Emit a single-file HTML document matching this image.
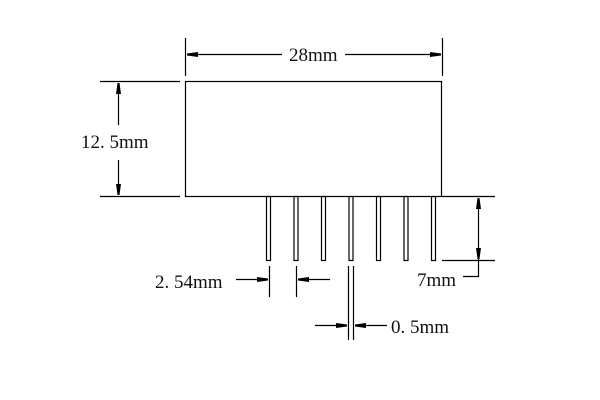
<!DOCTYPE html>
<html><head><style>body{margin:0;background:#fff}svg{display:block}text{font-family:"Liberation Serif",serif;font-size:19px;fill:#111}</style></head><body>
<svg width="600" height="400" viewBox="0 0 600 400" stroke="#000" stroke-width="1.2" fill="none">
<defs>
<marker id="a" markerWidth="12" markerHeight="8" refX="11" refY="4" orient="auto" markerUnits="userSpaceOnUse"><path d="M0,1.5 L11,3 L11,5 L0,6.5Z" fill="#000" stroke="none"/></marker>
</defs>
<rect x="185.5" y="81.5" width="256" height="115"/>
<line x1="185.5" y1="38" x2="185.5" y2="76"/>
<line x1="442.5" y1="38" x2="442.5" y2="76"/>
<line x1="282" y1="54.5" x2="187" y2="54.5" marker-end="url(#a)"/>
<line x1="345" y1="54.5" x2="441" y2="54.5" marker-end="url(#a)"/>
<text x="289" y="61" stroke="none">28mm</text>
<line x1="100" y1="81.5" x2="180" y2="81.5"/>
<line x1="100" y1="196.5" x2="180" y2="196.5"/>
<line x1="118.5" y1="125" x2="118.5" y2="83" marker-end="url(#a)"/>
<line x1="118.5" y1="160" x2="118.5" y2="195" marker-end="url(#a)"/>
<text x="81" y="148" stroke="none">12. 5mm</text>
<g>
<rect x="266.5" y="196.5" width="4" height="64"/>
<rect x="294" y="196.5" width="4" height="64"/>
<rect x="321.5" y="196.5" width="4" height="64"/>
<rect x="349" y="196.5" width="4" height="64"/>
<rect x="376.5" y="196.5" width="4" height="64"/>
<rect x="404" y="196.5" width="4" height="64"/>
<rect x="431.5" y="196.5" width="4" height="64"/>
</g>
<line x1="442" y1="196.5" x2="495" y2="196.5"/>
<line x1="442" y1="260.5" x2="495" y2="260.5"/>
<line x1="478.5" y1="230" x2="478.5" y2="198" marker-end="url(#a)"/>
<line x1="478.5" y1="230" x2="478.5" y2="259" marker-end="url(#a)"/>
<polyline points="478.5,259 478.5,276.5 463,276.5"/>
<text x="417" y="286" stroke="none">7mm</text>
<line x1="269.5" y1="266" x2="269.5" y2="297"/>
<line x1="296.5" y1="266" x2="296.5" y2="297"/>
<line x1="236" y1="279.5" x2="268" y2="279.5" marker-end="url(#a)"/>
<line x1="330" y1="279.5" x2="298" y2="279.5" marker-end="url(#a)"/>
<text x="155" y="288" stroke="none">2. 54mm</text>
<line x1="348.5" y1="266" x2="348.5" y2="340"/>
<line x1="353.5" y1="266" x2="353.5" y2="340"/>
<line x1="315" y1="325.5" x2="347" y2="325.5" marker-end="url(#a)"/>
<line x1="387" y1="325.5" x2="355" y2="325.5" marker-end="url(#a)"/>
<text x="391" y="333" stroke="none">0. 5mm</text>
</svg>
</body></html>
